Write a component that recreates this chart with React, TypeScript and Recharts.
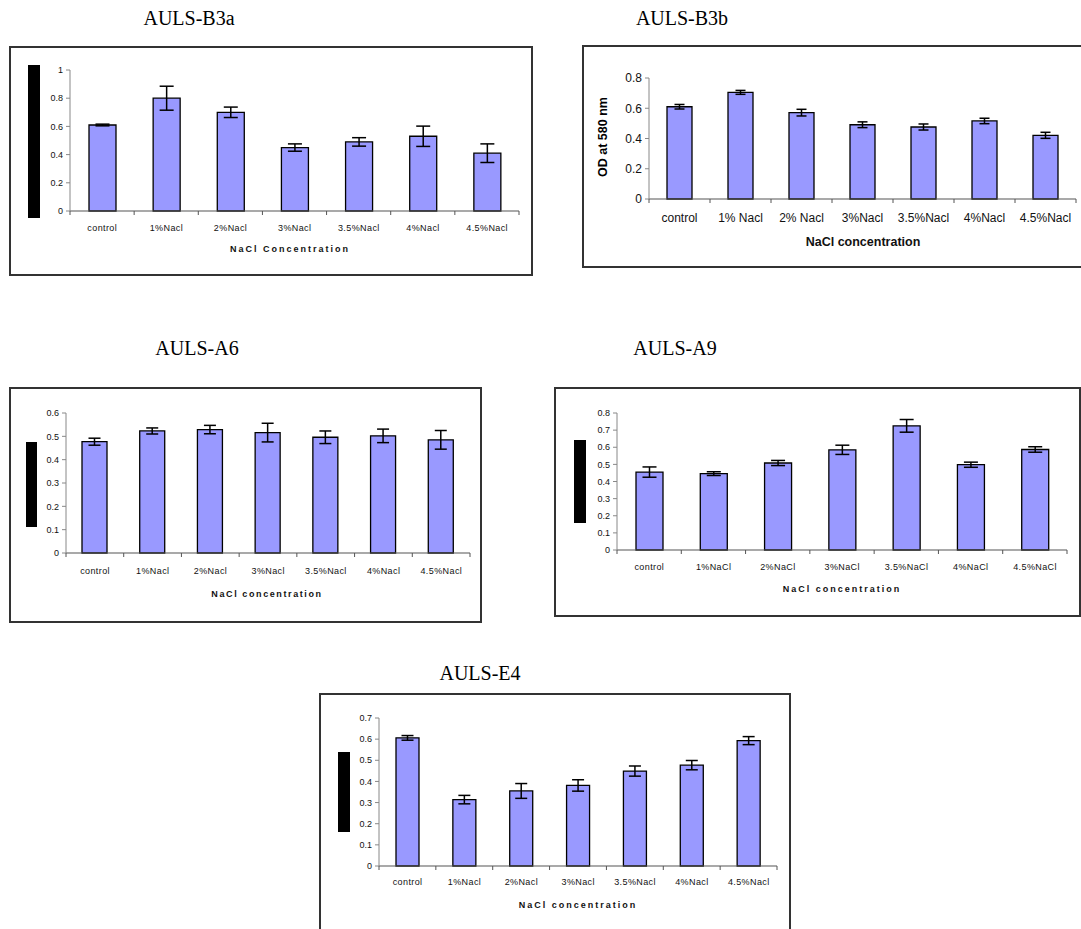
import { BarChart, Bar, XAxis, YAxis, ErrorBar } from "recharts";

// tick labels as printed under each panel
const naclLabels = ["control", "1%Nacl", "2%Nacl", "3%Nacl", "3.5%Nacl", "4%Nacl", "4.5%Nacl"];
const naclLabelsB3b = ["control", "1% Nacl", "2% Nacl", "3%Nacl", "3.5%Nacl", "4%Nacl", "4.5%Nacl"];
const naclLabelsA9 = ["control", "1%NaCl", "2%NaCl", "3%NaCl", "3.5%NaCl", "4%NaCl", "4.5%NaCl"];

// OD readings (mean) and error (+/-) per strain
const b3aOD = [0.61, 0.8, 0.7, 0.45, 0.49, 0.53, 0.41];
const b3aErr = [0.006, 0.085, 0.037, 0.026, 0.03, 0.072, 0.066];
const b3bOD = [0.61, 0.705, 0.571, 0.491, 0.476, 0.516, 0.421];
const b3bErr = [0.015, 0.013, 0.022, 0.019, 0.02, 0.018, 0.02];
const a6OD = [0.477, 0.523, 0.529, 0.516, 0.496, 0.502, 0.485];
const a6Err = [0.015, 0.013, 0.018, 0.04, 0.027, 0.029, 0.04];
const a9OD = [0.455, 0.446, 0.508, 0.585, 0.725, 0.498, 0.587];
const a9Err = [0.03, 0.011, 0.015, 0.027, 0.037, 0.015, 0.016];
const e4OD = [0.606, 0.314, 0.355, 0.381, 0.449, 0.477, 0.593];
const e4Err = [0.011, 0.02, 0.035, 0.027, 0.024, 0.022, 0.019];

const b3aTicks = [0, 0.2, 0.4, 0.6, 0.8, 1];
const b3bTicks = [0, 0.2, 0.4, 0.6, 0.8];
const a6Ticks = [0, 0.1, 0.2, 0.3, 0.4, 0.5, 0.6];
const a9Ticks = [0, 0.1, 0.2, 0.3, 0.4, 0.5, 0.6, 0.7, 0.8];
const e4Ticks = [0, 0.1, 0.2, 0.3, 0.4, 0.5, 0.6, 0.7];

const sans = "'Liberation Sans', Arial, sans-serif";
const serif = "'Liberation Serif', 'Times New Roman', serif";
const barFill = "#9999ff";
const axisDark = "#555";
const axisGray = "#888";

interface PanelCfg {
  title: string;
  labels: string[];
  od: number[];
  err: number[];
  ticks: number[];
  xTitle: string;
  yTitle?: string;
  box: { l: number; t: number; r: number; b: number };
  axisX: number;
  topY: number;
  zeroY: number;
  axisEnd: number;
  barSize: number;
  cap: number;
  titleAt: [number, number];
  xTitleAt: [number, number];
  yTitleAt?: [number, number];
  labelDrop: number;
  tickFont: number;
  tickSpacing: number;
  yTickFont: number;
  xTitleFont: number;
  xTitleSpacing: number;
  blackBar?: { l: number; t: number; w: number; h: number };
}

const panels: PanelCfg[] = [
  {
    title: "AULS-B3a",
    labels: naclLabels,
    od: b3aOD,
    err: b3aErr,
    ticks: b3aTicks,
    xTitle: "NaCl Concentration",
    box: { l: 9, t: 46, r: 533, b: 276 },
    axisX: 70,
    topY: 70,
    zeroY: 211,
    axisEnd: 519,
    barSize: 27,
    cap: 7,
    titleAt: [189, 18],
    xTitleAt: [290, 249],
    labelDrop: 17,
    tickFont: 9,
    tickSpacing: 0.4,
    yTickFont: 9,
    xTitleFont: 9,
    xTitleSpacing: 2,
    blackBar: { l: 28, t: 65, w: 12, h: 153 },
  },
  {
    title: "AULS-B3b",
    labels: naclLabelsB3b,
    od: b3bOD,
    err: b3bErr,
    ticks: b3bTicks,
    xTitle: "NaCl concentration",
    yTitle: "OD at 580 nm",
    box: { l: 582, t: 45, r: 1095, b: 268 },
    axisX: 649,
    topY: 78,
    zeroY: 199,
    axisEnd: 1076,
    barSize: 25,
    cap: 5,
    titleAt: [682, 18],
    xTitleAt: [863, 242],
    yTitleAt: [603, 137],
    labelDrop: 19,
    tickFont: 12,
    tickSpacing: 0,
    yTickFont: 12,
    xTitleFont: 12.5,
    xTitleSpacing: 0,
  },
  {
    title: "AULS-A6",
    labels: naclLabels,
    od: a6OD,
    err: a6Err,
    ticks: a6Ticks,
    xTitle: "NaCl concentration",
    box: { l: 9, t: 387, r: 482, b: 623 },
    axisX: 66,
    topY: 413,
    zeroY: 553,
    axisEnd: 470,
    barSize: 25,
    cap: 6,
    titleAt: [197, 348],
    xTitleAt: [267, 594],
    labelDrop: 18,
    tickFont: 9,
    tickSpacing: 0.4,
    yTickFont: 9,
    xTitleFont: 9,
    xTitleSpacing: 1.6,
    blackBar: { l: 26, t: 442, w: 11, h: 85 },
  },
  {
    title: "AULS-A9",
    labels: naclLabelsA9,
    od: a9OD,
    err: a9Err,
    ticks: a9Ticks,
    xTitle: "NaCl concentration",
    box: { l: 554, t: 387, r: 1081, b: 617 },
    axisX: 617,
    topY: 413,
    zeroY: 550,
    axisEnd: 1067,
    barSize: 27,
    cap: 7,
    titleAt: [675, 348],
    xTitleAt: [842, 589],
    labelDrop: 17,
    tickFont: 9,
    tickSpacing: 0.4,
    yTickFont: 9,
    xTitleFont: 9,
    xTitleSpacing: 2,
    blackBar: { l: 574, t: 440, w: 12, h: 83 },
  },
  {
    title: "AULS-E4",
    labels: naclLabels,
    od: e4OD,
    err: e4Err,
    ticks: e4Ticks,
    xTitle: "NaCl concentration",
    box: { l: 319, t: 693, r: 791, b: 945 },
    axisX: 379,
    topY: 718,
    zeroY: 866,
    axisEnd: 777,
    barSize: 23,
    cap: 6,
    titleAt: [480, 673],
    xTitleAt: [578, 905],
    labelDrop: 16,
    tickFont: 9,
    tickSpacing: 0.4,
    yTickFont: 9,
    xTitleFont: 9,
    xTitleSpacing: 2,
    blackBar: { l: 338, t: 752, w: 12, h: 80 },
  },
];

function Panel({ cfg }: { cfg: PanelCfg }) {
  const rows = cfg.labels.map((name, i) => ({ name, od: cfg.od[i], err: cfg.err[i] }));
  const yAxisW = 45;
  const padTop = 10;
  const xAxisH = 30;
  const plotW = cfg.axisEnd - cfg.axisX;
  const plotH = cfg.zeroY - cfg.topY;
  const band = plotW / rows.length;
  const last = rows.length - 1;
  const yMax = cfg.ticks[cfg.ticks.length - 1];

  // category label + excel-style tick marks between categories
  const renderTick = (p: any) => {
    const i = cfg.labels.indexOf(p.payload.value);
    const left = p.x - band / 2;
    const right = p.x + band / 2;
    return (
      <g>
        <line x1={left} x2={left} y1={p.y} y2={p.y + 4} stroke={axisDark} />
        {i === last && <line x1={right} x2={right} y1={p.y} y2={p.y + 4} stroke={axisDark} />}
        <text
          x={p.x + cfg.tickSpacing / 2}
          y={p.y + cfg.labelDrop}
          textAnchor="middle"
          dominantBaseline="central"
          fontSize={cfg.tickFont}
          fontFamily={sans}
          letterSpacing={cfg.tickSpacing}
          fill="#111"
        >
          {p.payload.value}
        </text>
      </g>
    );
  };

  return (
    <>
      <div
        style={{
          position: "absolute",
          left: cfg.box.l,
          top: cfg.box.t,
          width: cfg.box.r - cfg.box.l,
          height: cfg.box.b - cfg.box.t,
          border: "2px solid #333",
          boxSizing: "border-box",
          background: "#fff",
        }}
      />
      <div
        style={{
          position: "absolute",
          left: cfg.titleAt[0],
          top: cfg.titleAt[1] - 10,
          transform: "translateX(-50%)",
          fontFamily: serif,
          fontSize: 20,
          lineHeight: "20px",
          whiteSpace: "nowrap",
          color: "#000",
        }}
      >
        {cfg.title}
      </div>
      {cfg.blackBar && (
        <div
          style={{
            position: "absolute",
            left: cfg.blackBar.l,
            top: cfg.blackBar.t,
            width: cfg.blackBar.w,
            height: cfg.blackBar.h,
            background: "#000",
          }}
        />
      )}
      {cfg.yTitle && cfg.yTitleAt && (
        <div
          style={{
            position: "absolute",
            left: cfg.yTitleAt[0],
            top: cfg.yTitleAt[1],
            transform: "translate(-50%, -50%) rotate(-90deg)",
            fontFamily: sans,
            fontWeight: "bold",
            fontSize: cfg.xTitleFont,
            whiteSpace: "nowrap",
            color: "#000",
          }}
        >
          {cfg.yTitle}
        </div>
      )}
      <div
        style={{
          position: "absolute",
          left: cfg.xTitleAt[0],
          top: cfg.xTitleAt[1],
          transform: "translate(-50%, -50%)",
          fontFamily: sans,
          fontWeight: "bold",
          fontSize: cfg.xTitleFont,
          letterSpacing: cfg.xTitleSpacing,
          whiteSpace: "nowrap",
          color: "#111",
        }}
      >
        {cfg.xTitle}
      </div>
      <div style={{ position: "absolute", left: cfg.axisX - yAxisW, top: cfg.topY - padTop }}>
        <BarChart
          width={yAxisW + plotW + 10}
          height={padTop + plotH + xAxisH}
          data={rows}
          margin={{ top: padTop, right: 10, left: 0, bottom: 0 }}
          barSize={cfg.barSize}
        >
          <XAxis
            dataKey="name"
            type="category"
            interval={0}
            height={xAxisH}
            tickSize={0}
            tickMargin={0}
            tickLine={false}
            axisLine={{ stroke: axisDark, strokeWidth: 1.2 }}
            tick={renderTick}
          />
          <YAxis
            type="number"
            domain={[0, yMax]}
            ticks={cfg.ticks}
            interval={0}
            width={yAxisW}
            tickSize={4}
            tickMargin={3}
            axisLine={{ stroke: axisGray }}
            tickLine={{ stroke: axisGray }}
            tickFormatter={(v: number) => String(v)}
            tick={{ fontSize: cfg.yTickFont, fill: "#111", fontFamily: sans }}
          />
          <Bar dataKey="od" fill={barFill} stroke="#000" strokeWidth={1.3} isAnimationActive={false}>
            <ErrorBar
              dataKey="err"
              direction="y"
              width={cfg.cap}
              stroke="#000"
              strokeWidth={1.5}
              isAnimationActive={false}
            />
          </Bar>
        </BarChart>
      </div>
    </>
  );
}

export default function App() {
  return (
    <div
      style={{
        position: "absolute",
        left: 0,
        top: 0,
        width: 1081,
        height: 929,
        overflow: "hidden",
        background: "#fff",
      }}
    >
      {panels.map((cfg) => (
        <Panel key={cfg.title} cfg={cfg} />
      ))}
    </div>
  );
}
